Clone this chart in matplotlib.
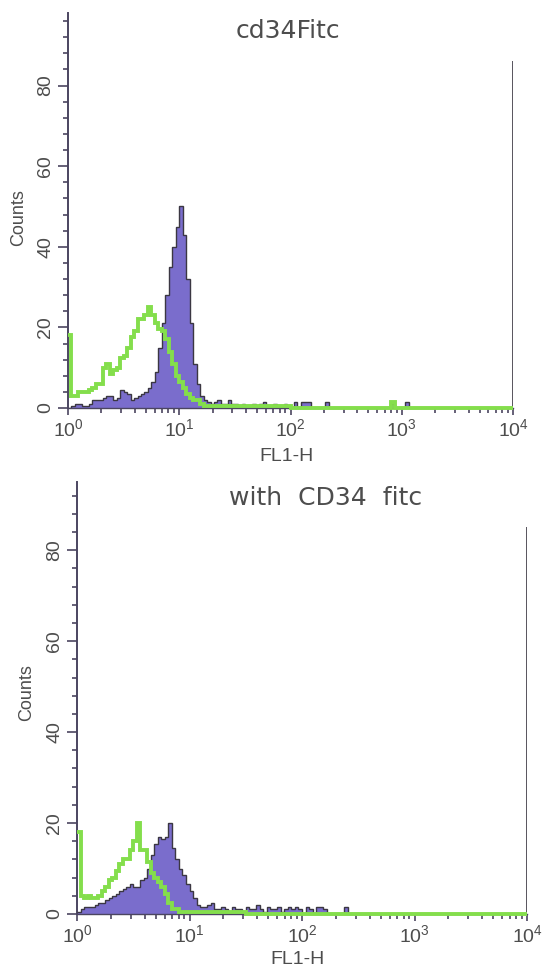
import numpy as np
import matplotlib
matplotlib.use("Agg")
import matplotlib.pyplot as plt
from matplotlib.ticker import FixedLocator, MultipleLocator, NullFormatter

plt.rcParams['font.family'] = ['Liberation Sans Narrow', 'Liberation Sans', 'DejaVu Sans']
plt.rcParams['mathtext.default'] = 'regular'

# FL1-H histogram channels: 32 channels per decade over 10^0 .. 10^4
N_CHANNELS = 128
PER_DECADE = 32

# ---- panel 1: cd34Fitc ----
top_title = "cd34Fitc"
top_stained = [0, 0.5, 1, 1, 0.5, 0.5, 1, 2, 2, 2, 2.5, 3, 3, 2, 2.5, 4.5,
               4, 3.5, 2, 2.5, 3, 3.5, 4, 5, 6.5, 9, 15, 21, 28, 35, 40, 45,
               50, 43, 32, 21, 11, 6, 3, 2, 1.5, 1, 1.5, 2, 1, 1, 2, 1,
               1, 0.5, 1, 0.5, 0.5, 1, 0.5, 1, 1.5, 0.5, 0.5, 1, 0.5, 0.5, 1, 0.5]
top_stained_tail_ch = [65, 67, 68, 69, 74, 93, 97]
top_stained_tail = [1.5, 1.5, 1.5, 1.5, 1.5, 1, 1.5]
top_control = [18, 3, 3, 4, 4, 4, 4.5, 5, 6, 6, 10, 11, 8.5, 9.5, 10, 12.5,
               13, 15, 17.5, 19, 22, 22, 23, 25, 23, 21, 19.5, 19, 17, 14, 11, 8,
               6.5, 5, 3.5, 2.5, 2, 2, 1, 0.5, 0.5, 0.5, 0.5, 0.5, 0.5, 0.5, 0.5, 0.5,
               0.5, 0.5, 0.5, 0.5, 0.5, 0.5, 0.5, 0.5, 0.5, 0.5, 0.5, 0.5, 0.5, 0.5, 0.5, 0.5]
top_control_tail_ch = [93]
top_control_tail = [1.5]
top_overflow = 86

# ---- panel 2: with CD34 fitc ----
bot_title = "with  CD34  fitc"
bot_stained = [0.5, 1, 1.5, 1.5, 1.5, 2, 2.5, 2.5, 3, 3.5, 4, 4.5, 5, 5.5, 6, 6.5,
               6, 6, 7.5, 8, 10, 13, 15.5, 17, 16.5, 17, 20, 14.5, 12, 10, 8.5, 6.5,
               5, 3.5, 2, 1.5, 1.5, 2, 2.5, 1, 1, 1.5, 1, 0.5, 1.5, 1, 1, 0.5,
               1.5, 1, 1, 2, 1, 0.5, 1.5, 1, 1, 1.5, 0.5, 1, 1.5, 1, 1.5, 1]
bot_stained_tail_ch = [65, 66, 68, 69, 70, 76]
bot_stained_tail = [1.5, 1, 1.5, 1.5, 1, 1.5]
bot_control = [18, 4, 3.5, 4, 3.5, 3.5, 4, 5, 6, 7.5, 8, 9.5, 11, 12, 12, 14,
               16, 20, 14, 14, 11.5, 9, 8, 7, 6, 4.5, 2.5, 1, 1, 0.5, 0.5, 0.5,
               0.5, 0.5, 0.5, 0.5, 0.5, 0.5, 0.5, 0.5, 0.5, 0.5, 0.5, 0.5, 0.5, 0.5, 0.5, 0.5]
bot_control_tail_ch = []
bot_control_tail = []
bot_overflow = 85

y_ticks = [0, 20, 40, 60, 80]
x_ticks = [1, 10, 100, 1000, 10000]
x_ticklabels = [r'$10^{0}$', r'$10^{1}$', r'$10^{2}$', r'$10^{3}$', r'$10^{4}$']

FILL = '#7a6dcc'
EDGE = '#3b3742'
GREEN = '#84de4c'
AXIS = '#4b4560'
TEXT = '#4d4d4d'


def channel_counts(main, tail_ch, tail_vals):
    counts = np.zeros(N_CHANNELS)
    counts[:len(main)] = main
    counts[list(tail_ch)] = tail_vals
    return counts


edges = 10.0 ** (np.arange(N_CHANNELS + 1) / PER_DECADE)

fig = plt.figure(figsize=(5.43, 9.73), dpi=100)
fig.patch.set_facecolor('white')


def draw_panel(rect, ymax, title, title_xy, stained, control, overflow,
               ylabel_xy, xlabel_xy):
    ax = fig.add_axes(rect)
    ax.stairs(stained, edges, fill=True, facecolor=FILL, edgecolor='none', zorder=2)
    ax.stairs(stained, edges, fill=False, color=EDGE, lw=1.0, baseline=None, zorder=3)
    ax.stairs(control, edges, fill=False, color=GREEN, lw=2.8, baseline=None,
              zorder=4, clip_on=False)
    ax.vlines(edges[-1], 0, overflow, color=EDGE, lw=1.2, zorder=3)

    ax.set_xscale('log')
    ax.set_xlim(1, 1e4)
    ax.set_ylim(0, ymax)

    for s in ('top', 'right'):
        ax.spines[s].set_visible(False)
    ax.spines['left'].set_color(AXIS)
    ax.spines['left'].set_linewidth(1.4)
    ax.spines['bottom'].set_color(AXIS)
    ax.spines['bottom'].set_linewidth(1.0)

    ax.set_xticks(x_ticks)
    ax.set_xticklabels(x_ticklabels)
    ax.xaxis.set_minor_formatter(NullFormatter())
    ax.set_yticks(y_ticks)
    ax.set_yticklabels([str(v) for v in y_ticks], rotation=90, va='center')
    ax.yaxis.set_minor_locator(MultipleLocator(4))

    ax.tick_params(axis='x', which='major', length=5, width=1.2, color=AXIS,
                   labelsize=14, labelcolor=TEXT, pad=2)
    ax.tick_params(axis='x', which='minor', length=3.5, width=1.2, color=AXIS)
    ax.tick_params(axis='y', which='major', length=7, width=1.2, color=AXIS,
                   labelsize=14, labelcolor=TEXT, pad=3)
    ax.tick_params(axis='y', which='minor', length=3.5, width=1.2, color=AXIS)

    ax.set_ylabel('Counts', fontsize=13, color=TEXT, va='center')
    ax.yaxis.set_label_coords(*ylabel_xy)
    ax.set_xlabel('FL1-H', fontsize=14, color=TEXT, va='center')
    ax.xaxis.set_label_coords(*xlabel_xy)

    fig.text(title_xy[0], title_xy[1], title, fontsize=18, color=TEXT,
             ha='center', va='baseline', family='DejaVu Sans')
    return ax


draw_panel([68 / 543, 565 / 973, 445 / 543, 395 / 973], 98, top_title,
           (288 / 543, 1 - 38 / 973),
           channel_counts(top_stained, top_stained_tail_ch, top_stained_tail),
           channel_counts(top_control, top_control_tail_ch, top_control_tail),
           top_overflow, (-0.112, 0.481), (0.492, -0.122))

draw_panel([77 / 543, 59 / 973, 450 / 543, 432 / 973], 95, bot_title,
           (326 / 543, 1 - 505 / 973),
           channel_counts(bot_stained, bot_stained_tail_ch, bot_stained_tail),
           channel_counts(bot_control, bot_control_tail_ch, bot_control_tail),
           bot_overflow, (-0.111, 0.512), (0.489, -0.106))

fig.savefig('out.png', dpi=100, facecolor='white')
